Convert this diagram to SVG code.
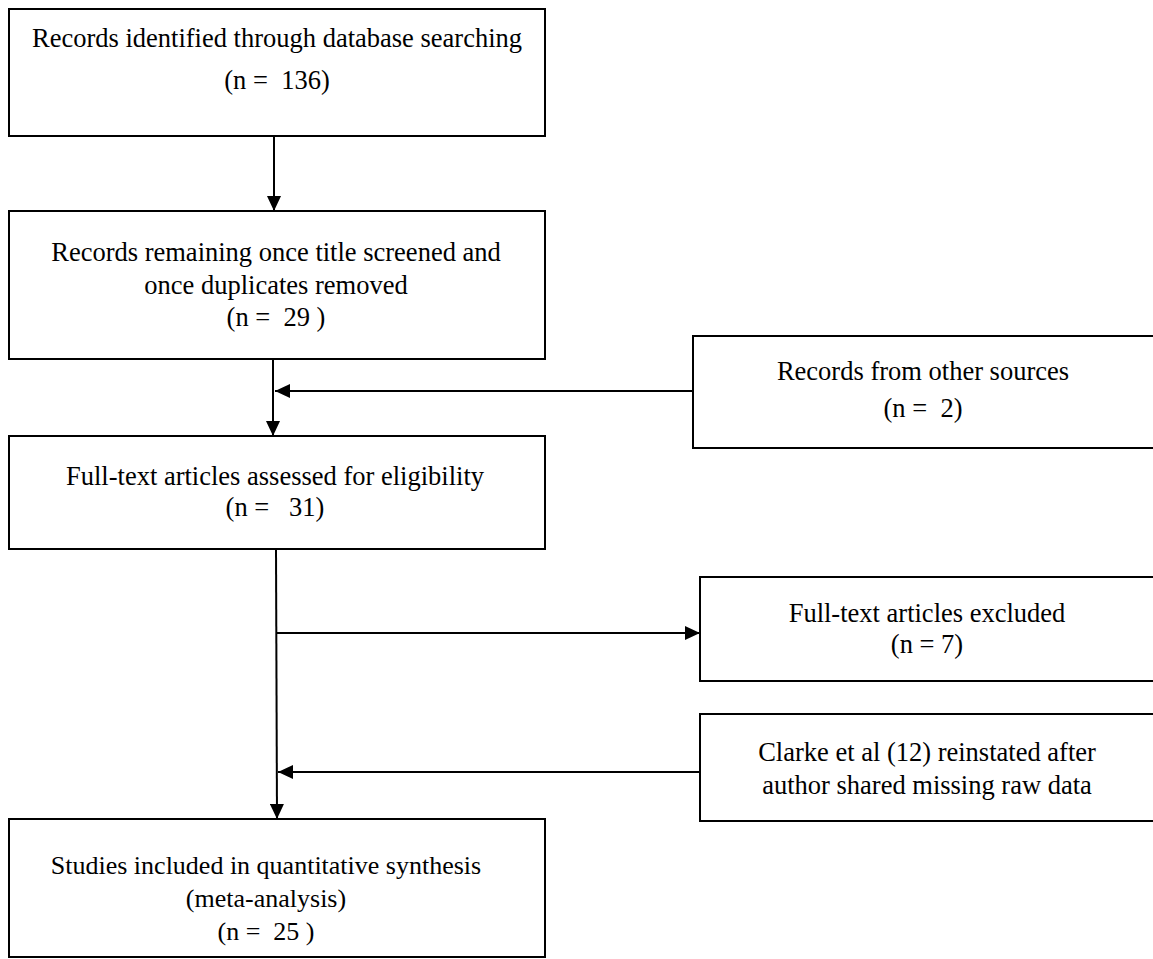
<svg xmlns="http://www.w3.org/2000/svg" width="1153" height="959" viewBox="0 0 1153 959">
<style>
.box{fill:#fff;stroke:#000;stroke-width:2}
.t{font-family:"Liberation Serif","Times New Roman",serif;font-size:26.5px;fill:#000;text-anchor:middle;white-space:pre}
.c{stroke:#000;stroke-width:2;fill:none}
</style>
<defs>
<marker id="ah" viewBox="0 0 15 14" refX="15" refY="7" markerWidth="15" markerHeight="14" markerUnits="userSpaceOnUse" orient="auto">
<path d="M0,0 L15,7 L0,14 Z" fill="#000"/>
</marker>
</defs>
<rect width="1153" height="959" fill="#fff"/>
<g id="connectors">
<line class="c" x1="274" y1="136" x2="274" y2="211" marker-end="url(#ah)"/>
<line class="c" x1="273" y1="359" x2="273" y2="436" marker-end="url(#ah)"/>
<line class="c" x1="693" y1="391" x2="275" y2="391" marker-end="url(#ah)"/>
<line class="c" x1="276" y1="549" x2="277" y2="819" marker-end="url(#ah)"/>
<line class="c" x1="277" y1="633" x2="700" y2="633" marker-end="url(#ah)"/>
<line class="c" x1="700" y1="772" x2="278" y2="772" marker-end="url(#ah)"/>
</g>
<g id="n1">
<rect class="box" x="9" y="9" width="536" height="127"/>
<text class="t" x="277" y="47">Records identified through database searching</text>
<text class="t" x="277" y="89" xml:space="preserve">(n =  136)</text>
</g>
<g id="n2">
<rect class="box" x="9" y="211" width="536" height="148"/>
<text class="t" x="276" y="261">Records remaining once title screened and</text>
<text class="t" x="276" y="294">once duplicates removed</text>
<text class="t" x="276" y="326" xml:space="preserve">(n =  29 )</text>
</g>
<g id="n3">
<rect class="box" x="693" y="336" width="470" height="112"/>
<text class="t" x="923" y="380">Records from other sources</text>
<text class="t" x="923" y="417" xml:space="preserve">(n =  2)</text>
</g>
<g id="n4">
<rect class="box" x="9" y="436" width="536" height="113"/>
<text class="t" x="275" y="485">Full-text articles assessed for eligibility</text>
<text class="t" x="275" y="516" xml:space="preserve">(n =   31)</text>
</g>
<g id="n5">
<rect class="box" x="700" y="577" width="470" height="104"/>
<text class="t" x="927" y="622">Full-text articles excluded</text>
<text class="t" x="927" y="653">(n = 7)</text>
</g>
<g id="n6">
<rect class="box" x="700" y="714" width="470" height="107"/>
<text class="t" x="927" y="761">Clarke et al (12) reinstated after</text>
<text class="t" x="927" y="794">author shared missing raw data</text>
</g>
<g id="n7">
<rect class="box" x="9" y="819" width="536" height="138"/>
<text class="t" x="266" y="874" style="font-size:26px">Studies included in quantitative synthesis</text>
<text class="t" x="266" y="907" style="font-size:26px">(meta-analysis)</text>
<text class="t" x="266" y="940" style="font-size:26px" xml:space="preserve">(n =  25 )</text>
</g>
</svg>
